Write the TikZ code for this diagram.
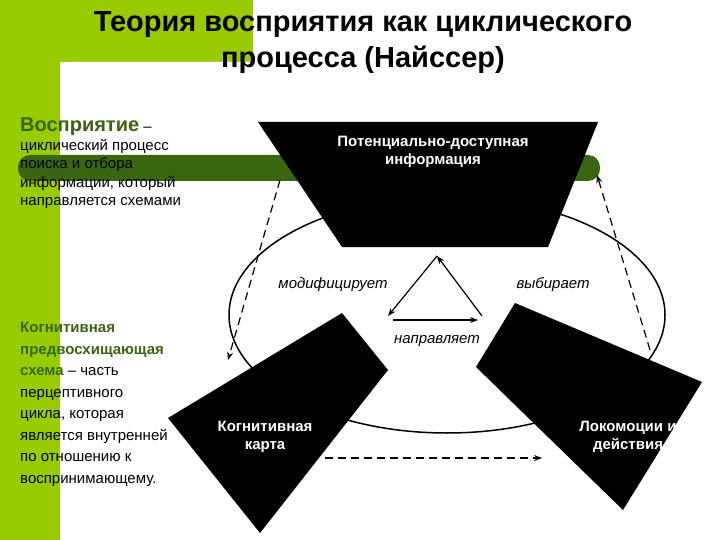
\documentclass[tikz,border=0pt]{standalone}
\usepackage{fontspec}
\setmainfont{Liberation Sans}
\usetikzlibrary{arrows.meta}
\definecolor{lime}{HTML}{99CC00}
\definecolor{dgreen}{HTML}{3A6612}
\tikzset{
  blk/.style={fill=black,draw=none},
  wlab/.style={text=white,font=\fontsize{15}{18}\selectfont\bfseries,align=center},
  ilab/.style={font=\fontsize{15}{18}\selectfont\itshape},
  arr/.style={-{Stealth[length=8pt,width=6pt]},line width=1.2pt},
  darr/.style={arr,dash pattern=on 8pt off 5pt},
  body/.style={font=\fontsize{15}{22.5}\selectfont,align=left,anchor=north west,inner sep=0pt}
}
\begin{document}
\begin{tikzpicture}[x=1pt,y=-1pt]
\useasboundingbox (0,0) rectangle (720,540);
% backgrounds
\fill[lime] (0,0) rectangle (253,62);
\fill[lime] (0,0) rectangle (60,540);
\fill[white,rounded corners=12pt] (60,62) rectangle (740,560);
\fill[dgreen,rounded corners=12pt] (18,155) rectangle (600,181);
% title
\node[font=\fontsize{29}{36}\selectfont\bfseries,align=center] (title) at (363,43) {Теория восприятия как циклического\\процесса (Найссер)};
% left texts
\node[body] (deftext) at (20,118) {{\fontsize{20}{22}\selectfont\bfseries\color{dgreen}Восприятие} –\\[-4pt]циклический процесс\\[-4pt]поиска и отбора\\[-4pt]информации, который\\[-4pt]направляется схемами};
\node[body] (schema) at (20,322) {\textcolor{dgreen}{\bfseries Когнитивная}\\[-1pt]\textcolor{dgreen}{\bfseries предвосхищающая}\\[-1pt]\textcolor{dgreen}{\bfseries схема} – часть\\[-1pt]перцептивного\\[-1pt]цикла, которая\\[-1pt]является внутренней\\[-1pt]по отношению к\\[-1pt]воспринимающему.};
% ellipse
\draw[line width=1.5pt] (447,315) ellipse [x radius=218, y radius=118];
% shapes
\fill[blk] (258,122) -- (598,122) -- (548,247) -- (342,247) -- cycle;
\fill[blk] (342,313) -- (388,370) -- (260,533) -- (168,418) -- cycle;
\fill[blk] (515,303) -- (702,382) -- (623,510) -- (476,367) -- cycle;
\node[wlab] (info) at (433,152) {Потенциально-доступная\\информация};
\node[wlab] (map) at (265,437) {Когнитивная\\карта};
\node[wlab] (act) at (628,437) {Локомоции и\\действия};
% triangle
\coordinate (apex) at (437,256);
\coordinate (tl) at (388,316);
\coordinate (tr) at (482,316);
\coordinate (bl) at (393,320);
\coordinate (br) at (478,320);
\draw[arr] (apex) -- (tl);
\draw[arr] (tr) -- (apex);
\draw[arr] (bl) -- (br);
\node[ilab] (mod) at (333,285) {модифицирует};
\node[ilab] (sel) at (553,285) {выбирает};
\node[ilab] (dir) at (437,341) {направляет};
% dashed arrows
\coordinate (d1s) at (280,180);
\coordinate (d1e) at (228,360);
\coordinate (d2s) at (650,350);
\coordinate (d2e) at (597,175);
\coordinate (d3s) at (325,458);
\coordinate (d3e) at (542,458);
\draw[darr] (d1s) -- (d1e);
\draw[darr] (d2s) -- (d2e);
\draw[darr] (d3s) -- (d3e);
\end{tikzpicture}
\end{document}
